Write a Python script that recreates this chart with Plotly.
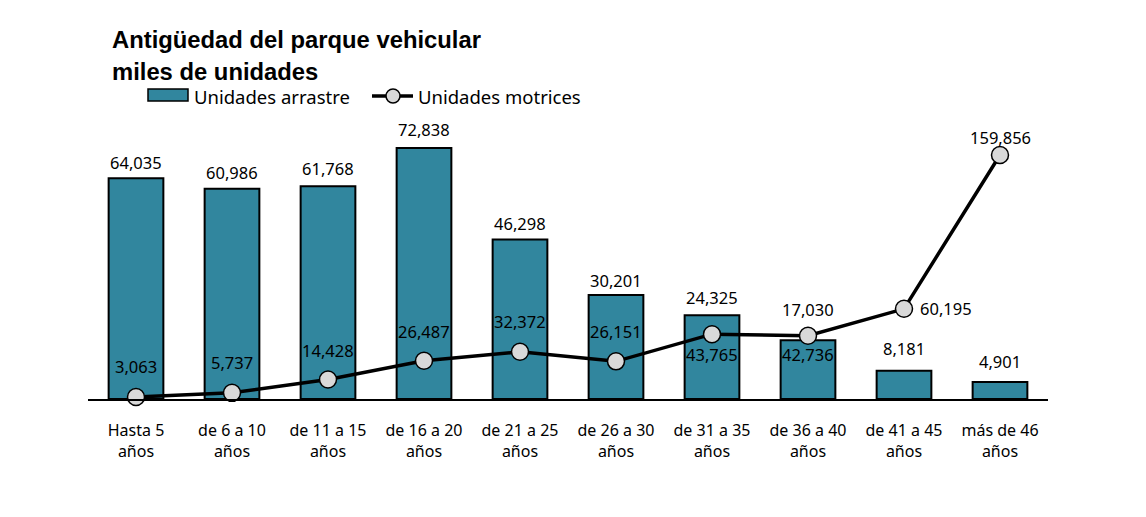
import plotly.graph_objects as go

categories = ["Hasta 5<br>años", "de 6 a 10<br>años", "de 11 a 15<br>años", "de 16 a 20<br>años",
              "de 21 a 25<br>años", "de 26 a 30<br>años", "de 31 a 35<br>años", "de 36 a 40<br>años",
              "de 41 a 45<br>años", "más de 46<br>años"]
arrastre = [64035, 60986, 61768, 72838, 46298, 30201, 24325, 17030, 8181, 4901]
motrices = [3063, 5737, 14428, 26487, 32372, 26151, 43765, 42736, 60195, 159856]

# label offsets (style only)
bar_label_shift = [16, 16, 18, 18, 16, 14, 18, 31, 22, 21]
line_label_shift = [(0, 30), (0, 30), (0, 29), (0, 29), (0, 30), (0, 30),
                    (0, -20), (0, -19), (42, 0), (0, 18)]

BAR_COLOR = "#31869E"
FONT = "Noto Sans, Open Sans, sans-serif"

W, H = 1146, 517
L, R, T, B = 88, 98, 120, 118
PH = H - T - B


def px_to_paper_x(px):
    return (px - L) / (W - L - R)


def px_to_paper_y(py):
    return (H - B - py) / PH


fig = go.Figure()
fig.add_trace(go.Bar(
    x=categories, y=arrastre, name="Unidades arrastre",
    marker=dict(color=BAR_COLOR, line=dict(color="black", width=2)),
    showlegend=False, yaxis="y",
))
fig.add_trace(go.Scatter(
    x=categories, y=motrices, name="Unidades motrices", mode="lines+markers",
    line=dict(color="black", width=3.5),
    marker=dict(size=17, color="#D9D9D9", line=dict(color="black", width=1.5)),
    cliponaxis=False, showlegend=False, yaxis="y2",
))

annotations = []
for c, v, dy in zip(categories, arrastre, bar_label_shift):
    annotations.append(dict(x=c, y=v, xref="x", yref="y", text=f"{v:,}", showarrow=False,
                            yshift=dy, font=dict(family=FONT, size=16.5, color="black")))
for c, v, (dx, dy) in zip(categories, motrices, line_label_shift):
    annotations.append(dict(x=c, y=v, xref="x", yref="y2", text=f"{v:,}", showarrow=False,
                            xshift=dx, yshift=dy, font=dict(family=FONT, size=16.5, color="black")))

# title
TFONT = "Liberation Sans, Arial, sans-serif"
annotations.append(dict(x=px_to_paper_x(110), y=px_to_paper_y(40), xref="paper", yref="paper",
                        xanchor="left", yanchor="middle", showarrow=False,
                        text="<b>Antigüedad del parque vehicular</b>",
                        font=dict(family=TFONT, size=23.8, color="black")))
annotations.append(dict(x=px_to_paper_x(110), y=px_to_paper_y(72), xref="paper", yref="paper",
                        xanchor="left", yanchor="middle", showarrow=False,
                        text="<b>miles de unidades</b>",
                        font=dict(family=TFONT, size=23.8, color="black")))
# legend texts
annotations.append(dict(x=px_to_paper_x(192), y=px_to_paper_y(96), xref="paper", yref="paper",
                        xanchor="left", yanchor="middle", showarrow=False,
                        text="Unidades arrastre", font=dict(family=FONT, size=18.5, color="black")))
annotations.append(dict(x=px_to_paper_x(416), y=px_to_paper_y(96), xref="paper", yref="paper",
                        xanchor="left", yanchor="middle", showarrow=False,
                        text="Unidades motrices", font=dict(family=FONT, size=18.5, color="black")))

shapes = [
    dict(type="rect", xref="paper", yref="paper",
         x0=px_to_paper_x(148), x1=px_to_paper_x(188), y0=px_to_paper_y(101), y1=px_to_paper_y(89),
         fillcolor=BAR_COLOR, line=dict(color="black", width=1.5)),
    dict(type="line", xref="paper", yref="paper",
         x0=px_to_paper_x(372), x1=px_to_paper_x(413), y0=px_to_paper_y(96), y1=px_to_paper_y(96),
         line=dict(color="black", width=3.5)),
    dict(type="circle", xref="paper", yref="paper",
         x0=px_to_paper_x(386), x1=px_to_paper_x(400), y0=px_to_paper_y(103), y1=px_to_paper_y(89),
         fillcolor="#D9D9D9", line=dict(color="black", width=1.5)),
]

fig.update_layout(
    width=W, height=H,
    margin=dict(l=L, r=R, t=T, b=B),
    paper_bgcolor="white", plot_bgcolor="white",
    bargap=0.43,
    showlegend=False,
    annotations=annotations,
    shapes=shapes,
    xaxis=dict(range=[-0.5, 9.5], showline=True, linecolor="black", linewidth=2, ticks="", tickangle=0,
               tickfont=dict(family=FONT, size=16, color="black"), ticklabelstandoff=16,
               showgrid=False, zeroline=False),
    yaxis=dict(range=[0, 80960], visible=False, showgrid=False, zeroline=False),
    yaxis2=dict(range=[1750, 182566], overlaying="y", visible=False, showgrid=False, zeroline=False),
)

fig.write_html("out.html")
